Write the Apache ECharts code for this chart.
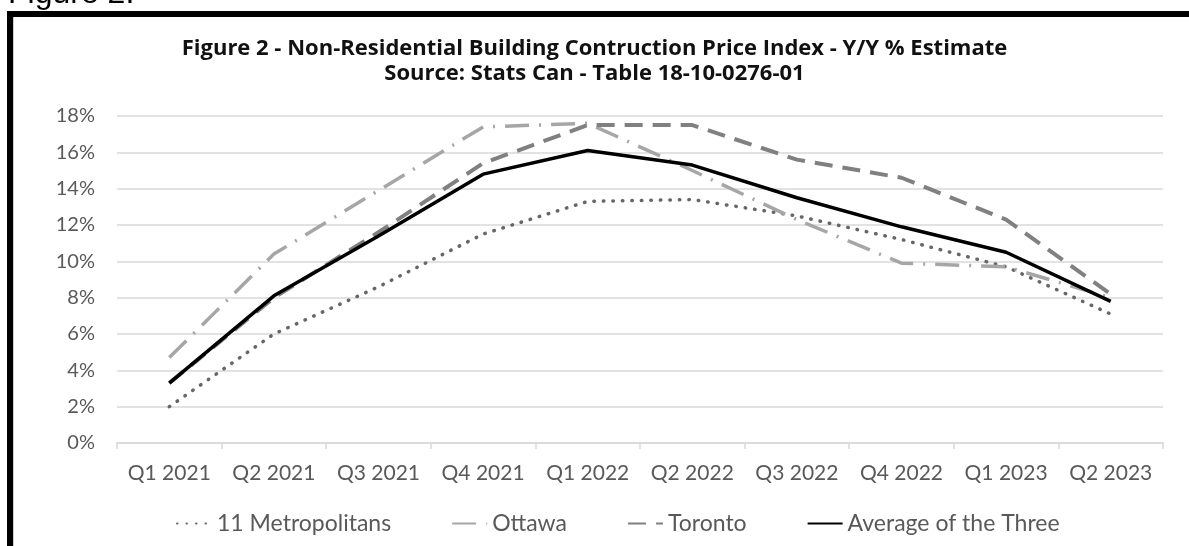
<!DOCTYPE html>
<html>
<head>
<meta charset="utf-8">
<script src="https://cdn.jsdelivr.net/npm/echarts@6/dist/echarts.min.js"></script>
<style>
  html, body {
    margin: 0;
    padding: 0;
    background: #fff;
  }
  #chart {
    width: 1189px;
    height: 546px;
  }
</style>
</head>
<body>
<div id="chart"></div>
<script>
// quarters on the x axis
const quarters = ['Q1 2021', 'Q2 2021', 'Q3 2021', 'Q4 2021', 'Q1 2022', 'Q2 2022', 'Q3 2022', 'Q4 2022', 'Q1 2023', 'Q2 2023']
// y/y % values
const metropolitans = [2.0, 6.0, 8.6, 11.5, 13.3, 13.4, 12.5, 11.2, 9.7, 7.1]
const ottawa = [4.7, 10.4, 13.9, 17.4, 17.6, 15.0, 12.3, 9.9, 9.7, 8.0]
const toronto = [3.3, 8.0, 11.6, 15.4, 17.5, 17.5, 15.6, 14.6, 12.3, 8.2]
const average = [3.3, 8.1, 11.4, 14.8, 16.1, 15.3, 13.5, 11.9, 10.5, 7.8]

const labelFont = 'Lato, "Open Sans", sans-serif'
const greyText = '#595959'
const gridColor = '#d9d9d9'

const myChart = echarts.init(document.getElementById('chart'))

const lineSeries = (name, data, lineStyle) => ({
  name,
  type: 'line',
  data,
  symbol: 'none',
  showSymbol: false,
  lineStyle,
  itemStyle: {color: lineStyle.color},
  emphasis: {disabled: true}
})

const option = {
  animation: false,
  backgroundColor: '#fff',
  title: {
    text: 'Figure 2 - Non-Residential Building Contruction Price Index - Y/Y % Estimate\nSource: Stats Can - Table 18-10-0276-01',
    left: 'center',
    top: 31,
    textStyle: {
      fontFamily: '"Open Sans", Lato, sans-serif',
      fontSize: 22,
      fontWeight: 'bold',
      color: '#111',
      lineHeight: 25
    }
  },
  graphic: [
    // frame of the pasted figure
    {type: 'rect', shape: {x: 7, y: 11, width: 1182, height: 6}, style: {fill: '#000'}},
    {type: 'rect', shape: {x: 7, y: 11, width: 6, height: 535}, style: {fill: '#000'}},
    {type: 'rect', shape: {x: 13, y: 17, width: 1, height: 529}, style: {fill: '#cfcfcf'}},
    {
      type: 'text',
      left: 8,
      top: -22,
      style: {
        text: 'Figure 2:',
        font: '32px "Liberation Sans", Arial, sans-serif',
        fill: '#000'
      }
    }
  ],
  grid: {
    left: 117,
    right: 26,
    top: 116,
    bottom: 103
  },
  legend: {
    bottom: 6,
    left: 171,
    itemWidth: 35,
    itemHeight: 14,
    itemGap: 60,
    itemStyle: {opacity: 0},
    textStyle: {
      fontFamily: labelFont,
      fontSize: 23,
      color: greyText
    },
    data: ['11 Metropolitans', 'Ottawa', 'Toronto', 'Average of the Three']
  },
  xAxis: {
    type: 'category',
    data: quarters,
    boundaryGap: true,
    axisLine: {lineStyle: {color: gridColor, width: 1.5}},
    axisTick: {show: true, length: 6, lineStyle: {color: gridColor, width: 1.5}},
    axisLabel: {
      interval: 0,
      color: greyText,
      fontFamily: labelFont,
      fontSize: 21,
      margin: 20
    }
  },
  yAxis: {
    type: 'value',
    min: 0,
    max: 18,
    interval: 2,
    axisLine: {show: false},
    axisTick: {show: false},
    splitLine: {lineStyle: {color: gridColor, width: 1.5}},
    axisLabel: {
      color: greyText,
      fontFamily: labelFont,
      fontSize: 20,
      margin: 22,
      formatter: '{value}%'
    }
  },
  series: [
    lineSeries('11 Metropolitans', metropolitans, {color: '#666666', width: 3.5, type: [0.5, 9], cap: 'round'}),
    lineSeries('Ottawa', ottawa, {color: '#a6a6a6', width: 3.5, type: [24, 10, 2, 10]}),
    lineSeries('Toronto', toronto, {color: '#808080', width: 4, type: [18, 10]}),
    lineSeries('Average of the Three', average, {color: '#000000', width: 3.5, type: 'solid'})
  ]
}

option && myChart.setOption(option)
</script>
</body>
</html>
